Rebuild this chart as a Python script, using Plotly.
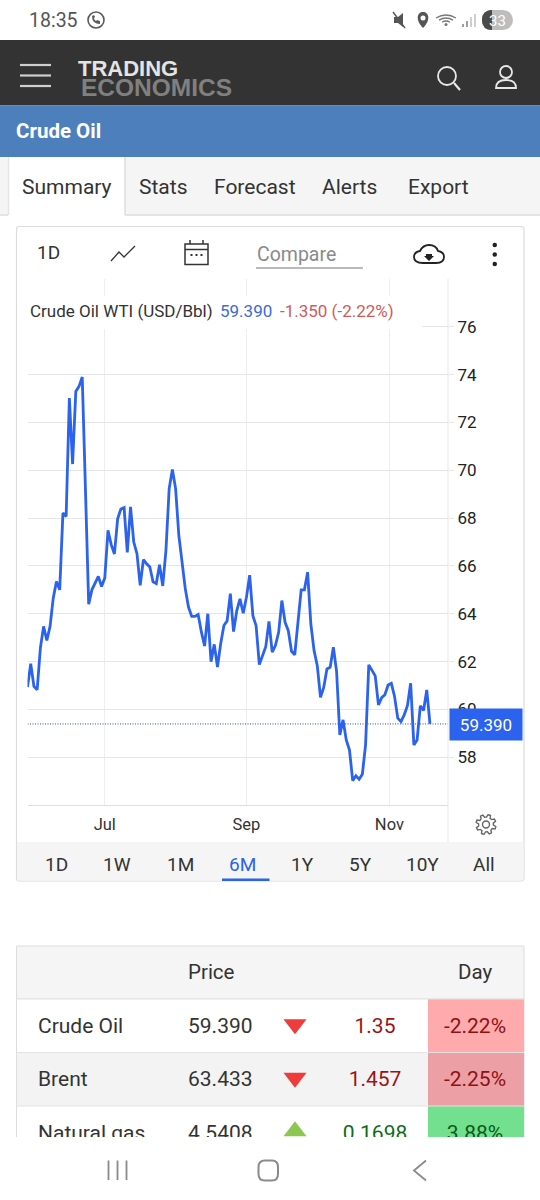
import numpy as np
import plotly.graph_objects as go

# ---------- chart data ----------
prices = [60.93,61.91,60.96,60.82,62.56,63.47,62.88,63.47,64.66,65.35,65.0,68.21,68.07,73.02,70.26,73.30,73.51,73.90,69.19,64.40,
          65.0,65.28,65.56,65.14,65.49,67.49,66.89,66.50,67.97,68.38,68.44,66.56,68.47,67.0,66.51,65.19,66.26,66.09,65.96,65.33,
          65.26,66.05,65.16,66.65,69.23,70.03,69.23,67.28,66.09,65.05,64.28,63.89,63.89,63.97,63.24,62.65,64.0,61.99,62.72,61.77,
          62.75,63.51,63.70,64.84,63.25,64.13,64.62,64.02,64.69,65.61,63.92,63.50,61.87,62.25,62.62,63.68,62.39,62.67,63.22,64.55,
          63.64,63.29,62.43,62.28,63.57,65.0,65.0,65.74,63.57,62.46,61.83,60.50,60.92,61.69,61.76,62.60,61.58,58.93,59.56,58.72,
          58.30,57.02,57.22,57.08,57.29,58.51,61.86,61.62,61.40,60.19,60.49,60.61,61.02,61.09,60.54,59.63,59.49,59.77,60.15,61.09,
          58.51,58.72,60.15,59.95,60.81,59.39]
days = list(range(len(prices)))
month_ticks = [24, 68, 112.4]
month_labels = ["Jul", "Sep", "Nov"]
y_ticks = [58, 60, 62, 64, 66, 68, 70, 72, 74, 76]
last_value = 59.39
last_label = "59.390"

# ---------- table data ----------
names = ["Crude Oil", "Brent", "Natural gas"]
table_prices = ["59.390", "63.433", "4.5408"]
changes = ["1.35", "1.457", "0.1698"]
pcts = ["-2.22%", "-2.25%", "3.88%"]
directions = ["down", "down", "up"]
change_colors = ["#9a1414", "#9a1414", "#0f6b1a"]
tri_colors = ["#ee3b3b", "#ee3b3b", "#8cc850"]
pct_colors = ["#ffabad", "#eca0a5", "#72e08f"]
pct_text_colors = ["#8f1212", "#8f1212", "#0b5a18"]
row_colors = ["#ffffff", "#f3f3f3", "#ffffff"]
row_tops = [999, 1052.5, 1106]
row_h = 53.5

ranges = ["1D", "1W", "1M", "6M", "1Y", "5Y", "10Y", "All"]
range_x = [56, 117, 180, 242, 302, 360, 422, 484]

W, H = 540, 1200
BLUE = "#2b62ee"
GRID = "#e6e6e6"
FONT = "Roboto"

fig = go.Figure()

# main series
fig.add_trace(go.Scatter(x=[0, 130.6], y=[last_value, last_value], mode="lines",
                         line=dict(color="#2a48c8", width=1, dash="1px,1.5px"), hoverinfo="skip", showlegend=False))
fig.add_trace(go.Scatter(x=days, y=prices, mode="lines",
                         line=dict(color=BLUE, width=2.8), showlegend=False))

shapes, ann = [], []
def T(x, y, text, size=18, color="#333333", anchor="left", family=FONT):
    ann.append(dict(x=x - 2 if anchor == "left" else x, y=y, xref="x2", yref="y2", text=text, showarrow=False, xanchor=anchor, yanchor="middle",
                    font=dict(size=size, color=color, family=family)))
def R(x0, y0, x1, y1, fill=None, line=None, lw=1, layer="below"):
    shapes.append(dict(type="rect", x0=x0, y0=y0, x1=x1, y1=y1, xref="x2", yref="y2", layer=layer,
                       fillcolor=fill or "rgba(0,0,0,0)", line=dict(color=line or "rgba(0,0,0,0)", width=lw if line else 0)))
def L(x0, y0, x1, y1, color, lw=1.5, layer="below"):
    shapes.append(dict(type="line", x0=x0, y0=y0, x1=x1, y1=y1, xref="x2", yref="y2", layer=layer, line=dict(color=color, width=lw)))
def C(x0, y0, x1, y1, fill=None, line=None, lw=1.5, layer="below"):
    shapes.append(dict(type="circle", x0=x0, y0=y0, x1=x1, y1=y1, xref="x2", yref="y2", layer=layer,
                       fillcolor=fill or "rgba(0,0,0,0)", line=dict(color=line or "rgba(0,0,0,0)", width=lw if line else 0)))
def P(path, fill=None, line=None, lw=1.5, layer="below"):
    shapes.append(dict(type="path", path=path, xref="x2", yref="y2", layer=layer,
                       fillcolor=fill or "rgba(0,0,0,0)", line=dict(color=line or "rgba(0,0,0,0)", width=lw if line else 0)))

# status bar
T(29, 20, "18:35", 19.5, "#555555")
C(88, 12, 104, 28, line="#5a5a5a", lw=1.6)
P("M 92 16 Q 92 24 100 24 L 100 21 L 97 20 L 96 21 Q 94 20 94 18 L 95 17 L 94 15 Z", fill="#5a5a5a")
P("M 394 17 L 398 17 L 403 13 L 403 27 L 398 23 L 394 23 Z", fill="#555555")
L(393, 12, 405, 28, "#555555", 1.4)
P("M 423 12 C 417 12 415 20 423 28 C 431 20 429 12 423 12 Z", fill="#555555")
C(420.5, 15.5, 425.5, 20.5, fill="#ffffff")
for r in [10, 7, 4]:
    P(f"M {446-r} {25-r*0.7} Q 446 {25-r*1.3} {446+r} {25-r*0.7}", line="#777777", lw=1.3)
C(444.5, 23, 447.5, 26, fill="#777777")
for i, (x, top) in enumerate(zip([463, 467, 471, 475], [24, 21, 17, 14])):
    L(x, 27, x, top, "#777777" if i < 2 else "#bbbbbb", 1.4)
C(482, 10, 502, 30, fill="#4a4a4a")
C(493, 10, 513, 30, fill="#bdbdbd")
R(492, 10, 503, 30, fill="#bdbdbd")
P("M 492 10 L 492 30 Q 482 30 482 20 Q 482 10 492 10 Z", fill="#4a4a4a")
T(497, 21, "33", 15, "#ffffff", "center")

# dark header
R(0, 40, W, 105.5, fill="#333333")
for y in [65, 75.5, 86]:
    L(20, y, 51, y, "#cfcfcf", 2.2)
T(78, 68, "<b>TRADING</b>", 22, "#e4e4e4", family="Liberation Sans")
T(81, 87, "<b>ECONOMICS</b>", 24.5, "#808080", family="Liberation Sans")
C(438, 67, 456, 85, line="#e8e8e8", lw=1.8)
L(454, 83, 460, 90, "#e8e8e8", 2.2)
C(500, 66, 512, 78, line="#e8e8e8", lw=1.8)
P("M 496 88 Q 496 80 506 80 Q 516 80 516 88 Z", line="#e8e8e8", lw=1.8)

# blue title bar
R(0, 105.5, W, 157, fill="#4d7fbd")
T(16, 131, "<b>Crude Oil</b>", 20.5, "#ffffff")

# tab bar
R(0, 157, W, 215, fill="#f5f5f5")
R(8, 157, 125, 217, fill="#ffffff")
L(0, 215, 8, 215, "#dddddd")
L(125, 215, W, 215, "#dddddd")
L(8.5, 157, 8.5, 215, "#e4e4e4")
L(125, 157, 125, 215, "#dddddd")
for x, t in zip([22, 139, 214, 322, 408], ["Summary", "Stats", "Forecast", "Alerts", "Export"]):
    T(x, 187, t, 21, "#333333")

# chart card
shapes.append(dict(type="path", xref="x2", yref="y2", layer="below", fillcolor="rgba(0,0,0,0)",
                   line=dict(color="#dcdcdc", width=1.2),
                   path="M 19 226.5 L 521 226.5 Q 524 226.5 524 229.5 L 524 878 Q 524 881 521 881 L 19 881 Q 16.5 881 16.5 878 L 16.5 229.5 Q 16.5 226.5 19 226.5 Z"))
T(37, 252, "1D", 19, "#333333")
P("M 111 261 L 119 252 L 124 257 L 135 246", line="#333333", lw=1.3)
shapes.append(dict(type="rect", x0=185, y0=244, x1=208, y1=264.5, xref="x2", yref="y2", layer="below",
                   line=dict(color="#333333", width=1.5), fillcolor="rgba(0,0,0,0)"))
L(185, 249.5, 208, 249.5, "#333333", 1.5)
L(190, 240, 190, 244, "#333333", 1.5)
L(203, 240, 203, 244, "#333333", 1.5)
for x in [191.5, 196.5, 201.5]:
    R(x - 1, 254, x + 1, 256, fill="#333333")
T(257, 254, "Compare", 19.5, "#8a8a8a")
L(256, 268, 363, 268, "#777777", 1.2)
P("M 423 263 Q 414 263 414 257 Q 414 252 420 251 Q 423 245 429 245 Q 436 245 438 251 Q 444 252 444 257 Q 444 263 436 263 Z", line="#222222", lw=1.8)
P("M 426 254 L 432 254 L 432 256 L 434 256 L 429 261 L 424 256 L 426 256 Z", fill="#222222")
for y in [245, 254.5, 264]:
    C(492.5, y - 2.2, 497, y + 2.2, fill="#222222")

# title over the chart (white band hides the grid behind it)
R(20, 296, 422, 329, fill="#ffffff", layer="above")
T(30, 311, "Crude Oil WTI (USD/Bbl)", 17, "#333333")
T(220, 311, "59.390", 17, "#3a6bd6")
T(280, 311, "-1.350 (-2.22%)", 17, "#d05a5a")

# separators / gear
L(448, 279, 448, 842, "#e6e6e6", 1)
a = np.linspace(0, 2 * np.pi, 49)[:-1]
rad = np.array([10 if (i % 6) in (0, 1, 2) else 7.4 for i in range(48)])
gx, gy = 486 + rad * np.cos(a + 0.2), 824.5 + rad * np.sin(a + 0.2)
P("M " + " L ".join(f"{x:.1f} {y:.1f}" for x, y in zip(gx, gy)) + " Z", line="#666666", lw=1.4)
C(482.5, 821, 489.5, 828, line="#666666", lw=1.4)

# range selector
R(17, 842, 523.5, 880.5, fill="#f5f5f5")
for x, t in zip(range_x, ranges):
    T(x, 864, t, 19, BLUE if t == "6M" else "#333333", "center")
R(222, 878.5, 269.5, 881, fill=BLUE)

# table (own pixel axes so that row three is cut off like the screenshot)
R(16.5, 946, 524, 999, fill="#f5f5f5")
L(16.5, 946, 524, 946, "#dddddd", 1.2)
L(16.5, 946, 16.5, 1137, "#dddddd", 1)
L(524, 946, 524, 1137, "#dddddd", 1)
L(16.5, 999, 524, 999, "#e2e2e2", 1.2)
T(188, 972, "Price", 20.5, "#333333")
T(458, 972, "Day", 20.5, "#333333")
def cell(x0, y0, x1, y1, fill):
    shapes.append(dict(type="rect", x0=x0, y0=y0, x1=x1, y1=y1, xref="x3", yref="y3", layer="below",
                       fillcolor=fill, line=dict(width=0)))
for top, rc, pc in zip(row_tops, row_colors, pct_colors):
    cell(17, top, 428, top + row_h, rc)
    cell(428, top, 524, top + row_h, pc)
    shapes.append(dict(type="line", x0=17, x1=524, y0=top, y1=top, xref="x3", yref="y3", layer="below",
                       line=dict(color="#e2e2e2", width=1)))
centers = [t + row_h / 2 for t in row_tops]
text_y = [c + 1.5 for c in centers]
def tt(x, text, color, pos):
    fig.add_trace(go.Scatter(x=x, y=text_y, text=text, mode="text", xaxis="x3", yaxis="y3", textposition=pos,
                             textfont=dict(family=FONT, size=21, color=color), hoverinfo="skip", showlegend=False))
tt([38] * 3, names, "#333333", "middle right")
tt([188] * 3, table_prices, "#333333", "middle right")
tt([375] * 3, changes, change_colors, "middle center")
tt([475] * 3, pcts, pct_text_colors, "middle center")
fig.add_trace(go.Scatter(x=[295] * 3, y=[c - 1.5 for c in centers], mode="markers", xaxis="x3", yaxis="y3",
                         marker=dict(symbol=["triangle-down" if d == "down" else "triangle-up" for d in directions],
                                     size=20, color=tri_colors, line=dict(width=0)),
                         hoverinfo="skip", showlegend=False))

# phone navigation bar
for x in [108.5, 117.5, 126.5]:
    L(x, 1160.5, x, 1180, "#8a8a8a", 1.8)
P("M 265 1160.5 L 272 1160.5 Q 278 1160.5 278 1167 L 278 1174 Q 278 1180.5 272 1180.5 L 265 1180.5 Q 258.5 1180.5 258.5 1174 L 258.5 1167 Q 258.5 1160.5 265 1160.5 Z",
  line="#8a8a8a", lw=2)
P("M 426 1160.5 L 414 1170.5 L 426 1180.5", line="#8a8a8a", lw=1.8)

# last price tag, anchored on the value axis
ann.append(dict(x=486, xref="x2", y=last_value, yref="y", text=last_label, showarrow=False, xanchor="center", yanchor="middle",
                bgcolor=BLUE, width=70, height=29, yshift=-1, font=dict(size=17, color="#ffffff", family=FONT)))

fig.update_layout(
    width=W, height=H, margin=dict(l=0, r=0, t=0, b=0),
    paper_bgcolor="#ffffff", plot_bgcolor="rgba(0,0,0,0)", showlegend=False,
    shapes=shapes, annotations=ann, font=dict(family=FONT),
    xaxis=dict(domain=[27.5 / W, 448 / W], range=[0, 130.6], tickmode="array", tickvals=month_ticks, ticktext=month_labels,
               showgrid=True, gridcolor="#eeeeee", gridwidth=1, zeroline=False, showline=True, linecolor="#dddddd", linewidth=1,
               ticks="outside", ticklen=4, tickcolor="rgba(0,0,0,0)", tickfont=dict(size=16.5, color="#333333", family=FONT),
               anchor="y", fixedrange=True),
    yaxis=dict(domain=[(H - 805) / H, (H - 279) / H], range=[56, 78], side="right", tickmode="array", tickvals=y_ticks,
               ticktext=[str(v) for v in y_ticks], showgrid=True, gridcolor=GRID, gridwidth=1.2, zeroline=False, showline=False,
               ticks="outside", ticklen=5, tickcolor=GRID, tickfont=dict(size=17, color="#222222", family=FONT),
               anchor="x", fixedrange=True),
    xaxis2=dict(domain=[0, 1], range=[0, W], visible=False, anchor="y2", fixedrange=True),
    yaxis2=dict(domain=[0, 1], range=[H, 0], visible=False, anchor="x2", fixedrange=True),
    xaxis3=dict(domain=[0, 1], range=[0, W], visible=False, anchor="y3", fixedrange=True),
    yaxis3=dict(domain=[(H - 1137) / H, (H - 946) / H], range=[1137, 946], visible=False, anchor="x3", fixedrange=True),
)
# page axes need a trace to exist
fig.add_trace(go.Scatter(x=[0], y=[0], xaxis="x2", yaxis="y2", mode="markers", marker=dict(opacity=0), hoverinfo="skip", showlegend=False))

fig.write_html("out.html", config=dict(displayModeBar=False),
               post_script="document.body.style.margin='0';document.documentElement.style.margin='0';")
